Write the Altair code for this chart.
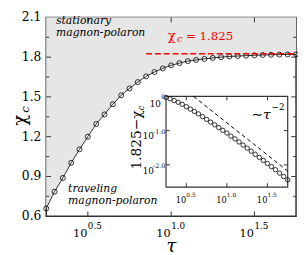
import altair as alt
import pandas as pd

# ---- data ----
tau_exp = [0.25, 0.30, 0.35, 0.40, 0.45, 0.50, 0.55, 0.60, 0.65, 0.70, 0.75,
           0.80, 0.85, 0.90, 0.95, 1.00, 1.05, 1.10, 1.15, 1.20, 1.25, 1.30,
           1.35, 1.40, 1.45, 1.50, 1.55, 1.60, 1.65, 1.70, 1.75]
chi = [0.659, 0.785, 0.889, 1.003, 1.105, 1.200, 1.296, 1.368, 1.445, 1.512,
       1.564, 1.612, 1.655, 1.688, 1.715, 1.738, 1.755, 1.770, 1.779, 1.787,
       1.794, 1.800, 1.805, 1.808, 1.811, 1.814, 1.816, 1.818, 1.819, 1.820,
       1.821]
dev_exp = [-0.03, -0.07, -0.12, -0.17, -0.23, -0.30, -0.37, -0.44, -0.51,
           -0.59, -0.67, -0.75, -0.83, -0.91, -0.99, -1.07, -1.16, -1.24,
           -1.33, -1.42, -1.51, -1.60, -1.69, -1.78, -1.87, -1.96, -2.05,
           -2.14, -2.24, -2.34, -2.44]
CHI_C = 1.825
red_start_exp = 0.85
guide_tau_exp = [0.59, 1.75]
guide_dev_exp = [0.0, -2.18]
y_labels = [0.6, 0.9, 1.2, 1.5, 1.8, 2.1]
y_major = [0.9, 1.2, 1.5, 1.8]
y_minor = [0.75, 1.05, 1.35, 1.65, 1.95]
x_tick_exp = [0.5, 1.0, 1.5]
x_tick_sup = ["0.5", "1.0", "1.5"]
inset_y_exp = [0, -1, -2]
inset_y_sup = ["0", "-1.0", "-2.0"]

# ---- layout ----
W, H = 255, 203
IL, IR, IT, IB = 122.3, 246.5, 80.7, 173.3
SERIF = "DejaVu Serif"
FRAME = "#333333"

main_df = pd.DataFrame({"tau": [10 ** e for e in tau_exp], "chi": chi})
inset_df = pd.DataFrame({"itau": [10 ** e for e in tau_exp],
                         "dev": [10 ** e for e in dev_exp]})
guide_df = pd.DataFrame({"itau": [10 ** e for e in guide_tau_exp],
                         "dev": [10 ** e for e in guide_dev_exp]})

xs = alt.Scale(type="log", domain=[10 ** 0.25, 10 ** 1.75], nice=False)
ys = alt.Scale(domain=[0.6, 2.1], nice=False, zero=False)
ixs = alt.Scale(type="log", domain=[10 ** 0.25, 10 ** 1.75], nice=False, range=[IL, IR])
iys = alt.Scale(type="log", domain=[10 ** -2.65, 1], nice=False, range=[IB, IT])

X = lambda f: alt.X(f, scale=xs, axis=None)
Y = lambda f: alt.Y(f, scale=ys, axis=None)
IX = lambda f: alt.X(f, scale=ixs, axis=None)
IY = lambda f: alt.Y(f, scale=iys, axis=None)

def txt(s, x, y, size, color="black", style="normal", align="left", angle=0,
        baseline="alphabetic"):
    kw = dict(font=SERIF, fontSize=size, color=color, fontStyle=style,
              align=align, baseline=baseline)
    if angle:
        kw["angle"] = angle
    return alt.Chart(pd.DataFrame({"t": [s]})).mark_text(**kw).encode(
        x=alt.value(x), y=alt.value(y), text="t:N")

base = alt.Chart(main_df)
area = base.mark_area(color="#e6e6e6").encode(x=X("tau:Q"), y=Y("chi:Q"), y2=alt.datum(2.1))
line = base.mark_line(color="black", strokeWidth=0.8).encode(x=X("tau:Q"), y=Y("chi:Q"))
pts = base.mark_point(shape="circle", size=26, filled=False, color="black",
                      strokeWidth=0.8, opacity=1).encode(x=X("tau:Q"), y=Y("chi:Q"))

red_df = pd.DataFrame({"x0": [10 ** red_start_exp], "x1": [10 ** 1.75], "y": [CHI_C]})
red = alt.Chart(red_df).mark_rule(color="#ff0000", strokeDash=[6, 3], strokeWidth=1.5).encode(
    x=X("x0:Q"), x2="x1:Q", y=Y("y:Q"))

ymaj = alt.Chart(pd.DataFrame({"v": y_major}))
ymin = alt.Chart(pd.DataFrame({"v": y_minor}))
xt_df = pd.DataFrame({"tau": [10 ** e for e in x_tick_exp], "sup": x_tick_sup})
xt = alt.Chart(xt_df)
tick_kw = dict(color=FRAME, strokeWidth=1)
ticks = [
    ymaj.mark_rule(**tick_kw).encode(y=Y("v:Q"), x=alt.value(0), x2=alt.value(5)),
    ymaj.mark_rule(**tick_kw).encode(y=Y("v:Q"), x=alt.value(W - 5), x2=alt.value(W)),
    ymin.mark_rule(**tick_kw).encode(y=Y("v:Q"), x=alt.value(0), x2=alt.value(3)),
    ymin.mark_rule(**tick_kw).encode(y=Y("v:Q"), x=alt.value(W - 3), x2=alt.value(W)),
    xt.mark_rule(**tick_kw).encode(x=X("tau:Q"), y=alt.value(0), y2=alt.value(5)),
    xt.mark_rule(**tick_kw).encode(x=X("tau:Q"), y=alt.value(H - 5), y2=alt.value(H)),
]

ylab = alt.Chart(pd.DataFrame({"v": y_labels})).mark_text(
    font=SERIF, fontSize=12.5, align="right", baseline="middle", color="black").encode(
    y=Y("v:Q"), x=alt.value(-5), text=alt.Text("v:Q", format=".1f"))
xlab10 = xt.mark_text(font=SERIF, fontSize=11.5, align="right", color="black", dx=-0.5).encode(
    x=X("tau:Q"), y=alt.value(221), text=alt.value("10"))
xlabsup = xt.mark_text(font=SERIF, fontSize=9, align="left", color="black").encode(
    x=X("tau:Q"), y=alt.value(213), text="sup:N")

texts = [
    txt("stationary", 10, 7, 11, style="italic"),
    txt("magnon-polaron", 10, 19, 11, style="italic"),
    txt("traveling", 22.3, 178, 11, style="italic"),
    txt("magnon-polaron", 22.3, 191, 11, style="italic"),
    txt("χ", 124, 23, 13.5, color="#ff0000"),
    txt("c", 133.5, 25, 9.5, color="#ff0000", style="italic"),
    txt("= 1.825", 142.7, 23, 12, color="#ff0000"),
    txt("τ", 127.7, 239, 18, style="italic", align="center"),
    txt("χ", -21, 105, 18, align="center", angle=270),
    txt("c", -18, 94, 12, style="italic", align="center", angle=270),
]

main = alt.layer(area, line, pts, red, *ticks, ylab, xlab10, xlabsup, *texts)

# ---- inset ----
irect_df = pd.DataFrame({"x0": [10 ** 0.25], "x1": [10 ** 1.75], "y0": [10 ** -2.65], "y1": [1.0]})
irect = alt.Chart(irect_df).mark_rect(fill="white", stroke=FRAME, strokeWidth=1.2).encode(
    x=IX("x0:Q"), x2="x1:Q", y=IY("y0:Q"), y2="y1:Q")
iguide = alt.Chart(guide_df).mark_line(color="black", strokeDash=[4, 3], strokeWidth=1).encode(
    x=IX("itau:Q"), y=IY("dev:Q"))
ipts = alt.Chart(inset_df).mark_point(shape="circle", size=20, filled=False, color="black",
                                      strokeWidth=0.8, opacity=1).encode(
    x=IX("itau:Q"), y=IY("dev:Q"))

ixt_df = pd.DataFrame({"itau": [10 ** e for e in x_tick_exp], "sup": x_tick_sup})
ixt = alt.Chart(ixt_df)
iyt_df = pd.DataFrame({"dev": [10 ** e for e in inset_y_exp], "sup": inset_y_sup, "e": inset_y_exp})
iyt = alt.Chart(iyt_df)
iyt_in = iyt.transform_filter("datum.e < 0")
iticks = [
    ixt.mark_rule(**tick_kw).encode(x=IX("itau:Q"), y=alt.value(IB - 4), y2=alt.value(IB)),
    ixt.mark_rule(**tick_kw).encode(x=IX("itau:Q"), y=alt.value(IT), y2=alt.value(IT + 4)),
    iyt_in.mark_rule(**tick_kw).encode(y=IY("dev:Q"), x=alt.value(IL), x2=alt.value(IL + 4)),
    iyt_in.mark_rule(**tick_kw).encode(y=IY("dev:Q"), x=alt.value(IR - 4), x2=alt.value(IR)),
]
ixlab10 = ixt.mark_text(font=SERIF, fontSize=8.5, align="right", color="black").encode(
    x=IX("itau:Q"), y=alt.value(186), text=alt.value("10"))
ixlabsup = ixt.mark_text(font=SERIF, fontSize=6, align="left", color="black").encode(
    x=IX("itau:Q"), y=alt.value(181), text="sup:N")
iylab10a = iyt_in.mark_text(font=SERIF, fontSize=9, align="right", color="black", dy=6).encode(
    y=IY("dev:Q"), x=alt.value(110), text=alt.value("10"))
iylab10b = iyt.transform_filter("datum.e == 0").mark_text(
    font=SERIF, fontSize=9, align="right", color="black", dy=8).encode(
    y=IY("dev:Q"), x=alt.value(117), text=alt.value("10"))
iylabsup = iyt.mark_text(font=SERIF, fontSize=6.5, align="right", color="black", dy=1).encode(
    y=IY("dev:Q"), x=alt.value(121.5), text="sup:N")

itexts = [
    txt("∼τ", 229, 104, 14, style="italic", align="right"),
    txt("−2", 230, 95, 9, align="left"),
    txt("1.825−χ", 97, 95, 14, align="right", angle=270),
    txt("c", 100, 95, 9, style="italic", align="left", angle=270),
]

inset = alt.layer(irect, iguide, ipts, *iticks, ixlab10, ixlabsup,
                  iylab10a, iylab10b, iylabsup, *itexts)

chart = alt.layer(main, inset).resolve_scale(
    x="independent", y="independent"
).properties(
    width=W, height=H,
    padding={"left": 39, "top": 7, "right": 2, "bottom": 37},
    autosize=alt.AutoSizeParams(type="none"),
).configure_view(stroke=FRAME, strokeWidth=1.5)

chart.save("out.html", embed_options={"renderer": "svg", "actions": False})
